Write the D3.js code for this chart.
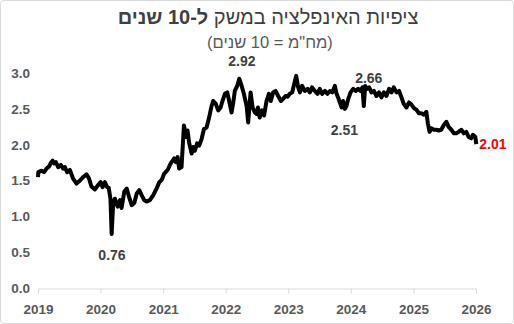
<!DOCTYPE html>
<html>
<head>
<meta charset="utf-8">
<script src="https://cdn.jsdelivr.net/npm/d3@7/dist/d3.min.js"></script>
<style>
  body { margin: 0; background: #fff; }
  svg { display: block; font-family: "Liberation Sans", Arial, sans-serif; }
</style>
</head>
<body>
<div id="chart"></div>
<script>
// Title texts
const titleMain = 'ציפיות האינפלציה במשק ';
const titleBold = 'ל-10 שנים';
const subtitle = '(מח"מ = 10 שנים)';

// Tick labels
const yTicks = [0, 0.5, 1.0, 1.5, 2.0, 2.5, 3.0];
const xYears = [2019, 2020, 2021, 2022, 2023, 2024, 2025, 2026];

// Series: dates and 10y inflation expectations (%)
const dates = [
  '2019-01-01','2019-01-03','2019-01-22','2019-02-05','2019-02-20','2019-03-07','2019-03-17','2019-03-27',
  '2019-04-05','2019-04-15','2019-04-29','2019-05-14','2019-05-28','2019-06-07','2019-06-20','2019-07-06',
  '2019-07-25','2019-08-14','2019-09-02','2019-09-21','2019-10-11','2019-10-26','2019-11-09','2019-11-29',
  '2019-12-18','2020-01-02','2020-01-13','2020-01-27','2020-02-09','2020-02-18','2020-02-28','2020-03-06',
  '2020-03-15','2020-03-25','2020-04-10','2020-04-24','2020-05-03','2020-05-19','2020-06-02','2020-06-15',
  '2020-07-01','2020-07-16','2020-07-30','2020-08-14','2020-08-28','2020-09-12','2020-09-26','2020-10-15',
  '2020-11-04','2020-11-23','2020-12-09','2020-12-23','2021-01-07','2021-01-27','2021-02-09','2021-02-19',
  '2021-03-06','2021-03-16','2021-03-26','2021-04-04','2021-04-18','2021-05-02','2021-05-14','2021-05-23',
  '2021-06-02','2021-06-16','2021-06-25','2021-07-05','2021-07-18','2021-07-30','2021-08-13','2021-08-27',
  '2021-09-11','2021-09-26','2021-10-10','2021-10-20','2021-11-04','2021-11-18','2021-12-02','2021-12-13',
  '2021-12-27','2022-01-10','2022-01-21','2022-02-04','2022-02-14','2022-02-23','2022-03-09','2022-03-21',
  '2022-04-04','2022-04-17','2022-05-03','2022-05-12','2022-05-26','2022-06-07','2022-06-20','2022-06-30',
  '2022-07-08','2022-07-18','2022-08-01','2022-08-13','2022-08-27','2022-09-10','2022-09-21','2022-10-05',
  '2022-10-19','2022-11-03','2022-11-19','2022-12-02','2022-12-16','2022-12-28','2023-01-10','2023-01-24',
  '2023-02-04','2023-02-16','2023-02-28','2023-03-10','2023-03-23','2023-04-08','2023-04-24','2023-05-07',
  '2023-05-20','2023-06-05','2023-06-21','2023-07-04','2023-07-18','2023-08-03','2023-08-18','2023-09-01',
  '2023-09-15','2023-09-30','2023-10-10','2023-10-19','2023-10-29','2023-11-08','2023-11-17','2023-11-27',
  '2023-12-07','2023-12-17','2023-12-31','2024-01-15','2024-01-30','2024-02-13','2024-02-27','2024-03-09',
  '2024-03-17','2024-03-25','2024-04-05','2024-04-17','2024-05-01','2024-05-15','2024-05-30','2024-06-14',
  '2024-06-28','2024-07-12','2024-07-27','2024-08-12','2024-08-26','2024-09-08','2024-09-24','2024-10-09',
  '2024-10-23','2024-11-05','2024-11-21','2024-12-06','2024-12-20','2025-01-04','2025-01-18','2025-02-01',
  '2025-02-16','2025-03-03','2025-03-17','2025-03-26','2025-04-05','2025-04-15','2025-04-30','2025-05-14',
  '2025-05-28','2025-06-12','2025-06-28','2025-07-12','2025-07-25','2025-08-10','2025-08-25','2025-09-08',
  '2025-09-21','2025-10-07','2025-10-22','2025-11-05','2025-11-19','2025-12-04','2025-12-14','2025-12-28',
  '2026-01-03'
];
const values = [
  1.55,1.62,1.64,1.62,1.67,1.70,1.75,1.78,
  1.74,1.76,1.69,1.72,1.67,1.69,1.62,1.65,
  1.53,1.46,1.50,1.55,1.59,1.53,1.42,1.38,
  1.44,1.48,1.41,1.48,1.41,1.40,1.25,0.76,
  1.19,1.25,1.14,1.23,1.12,1.35,1.39,1.28,
  1.16,1.19,1.32,1.37,1.30,1.23,1.21,1.23,
  1.30,1.39,1.48,1.51,1.60,1.65,1.72,1.76,
  1.81,1.76,1.83,1.67,1.69,2.27,2.11,2.20,
  2.02,1.88,1.97,1.92,2.02,1.99,2.08,2.22,
  2.24,2.38,2.54,2.61,2.57,2.48,2.52,2.61,
  2.71,2.73,2.61,2.45,2.59,2.75,2.82,2.92,
  2.82,2.71,2.54,2.31,2.73,2.52,2.45,2.43,
  2.52,2.38,2.48,2.41,2.61,2.71,2.61,2.73,
  2.75,2.68,2.61,2.64,2.68,2.67,2.71,2.73,
  2.84,2.96,2.80,2.73,2.82,2.75,2.78,2.73,
  2.80,2.75,2.71,2.78,2.71,2.75,2.71,2.75,
  2.73,2.82,2.71,2.66,2.59,2.52,2.61,2.50,
  2.54,2.64,2.73,2.78,2.75,2.78,2.75,2.80,
  2.54,2.82,2.78,2.80,2.73,2.75,2.68,2.73,
  2.66,2.73,2.68,2.78,2.73,2.80,2.73,2.75,
  2.66,2.57,2.52,2.59,2.56,2.51,2.49,2.44,
  2.44,2.42,2.46,2.30,2.18,2.23,2.21,2.21,
  2.20,2.21,2.28,2.32,2.25,2.21,2.16,2.16,
  2.18,2.21,2.16,2.18,2.11,2.09,2.14,2.11,
  2.01
];

// Annotated values
const noteTexts = ['2.92', '0.76', '2.51', '2.66', '2.01'];
const noteDates = ['2022-04-05', '2020-03-08', '2023-11-25', '2024-04-15', '2026-04-10'];
const noteValues = [3.17, 0.47, 2.21, 2.93, 2.01];
const noteColors = ['#404040', '#404040', '#404040', '#404040', '#ff0000'];

const parse = d3.timeParse('%Y-%m-%d');
const data = dates.map(function(d, i) { return {date: parse(d), value: values[i]}; });

const W = 514, H = 324;
let margin = {top: 73, right: 38, bottom: 35.5, left: 38};
let width = W - margin.left - margin.right;
let height = H - margin.top - margin.bottom;

let xScale = d3.scaleTime()
  .domain([new Date(2019, 0, 1), new Date(2026, 0, 1)])
  .range([0, width]);

let yScale = d3.scaleLinear()
  .domain([0, 3])
  .range([height, 0]);

let svg = d3.select('#chart').append('svg')
  .attr('width', W)
  .attr('height', H);

// outer frame
svg.append('rect')
  .attr('x', 0.5).attr('y', 0.5)
  .attr('width', W - 1).attr('height', H - 1)
  .attr('rx', 3)
  .attr('fill', '#fff')
  .attr('stroke', '#d9d9d9');

// title
let title = svg.append('text')
  .attr('x', 268).attr('y', 24)
  .attr('text-anchor', 'middle')
  .attr('direction', 'rtl')
  .attr('font-size', 20)
  .attr('fill', '#404040');
title.append('tspan').text(titleMain);
title.append('tspan').attr('font-weight', 'bold').text(titleBold);

svg.append('text')
  .attr('x', 270).attr('y', 48)
  .attr('text-anchor', 'middle')
  .attr('direction', 'rtl')
  .attr('font-size', 16.5)
  .attr('fill', '#595959')
  .text(subtitle);

let g = svg.append('g')
  .attr('transform', 'translate(' + margin.left + ',' + margin.top + ')');

// y axis labels (no line)
g.selectAll('.ylab')
  .data(yTicks)
  .enter().append('text')
  .attr('class', 'ylab')
  .attr('x', -8)
  .attr('y', function(d) { return yScale(d); })
  .attr('dy', '0.35em')
  .attr('text-anchor', 'end')
  .attr('font-size', 13.5)
  .attr('font-weight', 'bold')
  .attr('fill', '#595959')
  .text(function(d) { return d3.format('.1f')(d); });

// x axis
let xAxis = g.append('g')
  .attr('transform', 'translate(0,' + height + ')')
  .call(d3.axisBottom(xScale)
    .tickValues(xYears.map(function(y) { return new Date(y, 0, 1); }))
    .tickFormat(d3.timeFormat('%Y'))
    .tickSize(5)
    .tickSizeOuter(0));
xAxis.select('.domain').attr('stroke', '#d9d9d9');
xAxis.selectAll('.tick line').attr('stroke', '#d9d9d9');
xAxis.selectAll('.tick text')
  .attr('y', 16)
  .attr('font-family', '"Liberation Sans", Arial, sans-serif')
  .attr('font-size', 13.5)
  .attr('font-weight', 'bold')
  .attr('fill', '#595959');

// series line
let line = d3.line()
  .x(function(d) { return xScale(d.date); })
  .y(function(d) { return yScale(d.value); });

g.append('path')
  .datum(data)
  .attr('fill', 'none')
  .attr('stroke', '#000')
  .attr('stroke-width', 4)
  .attr('stroke-linejoin', 'round')
  .attr('d', line);

// annotations
g.selectAll('.note')
  .data(noteTexts)
  .enter().append('text')
  .attr('class', 'note')
  .attr('x', function(d, i) { return xScale(parse(noteDates[i])); })
  .attr('y', function(d, i) { return yScale(noteValues[i]); })
  .attr('dy', '0.35em')
  .attr('text-anchor', 'middle')
  .attr('font-size', 14)
  .attr('font-weight', 'bold')
  .attr('fill', function(d, i) { return noteColors[i]; })
  .text(function(d) { return d; });
</script>
</body>
</html>
